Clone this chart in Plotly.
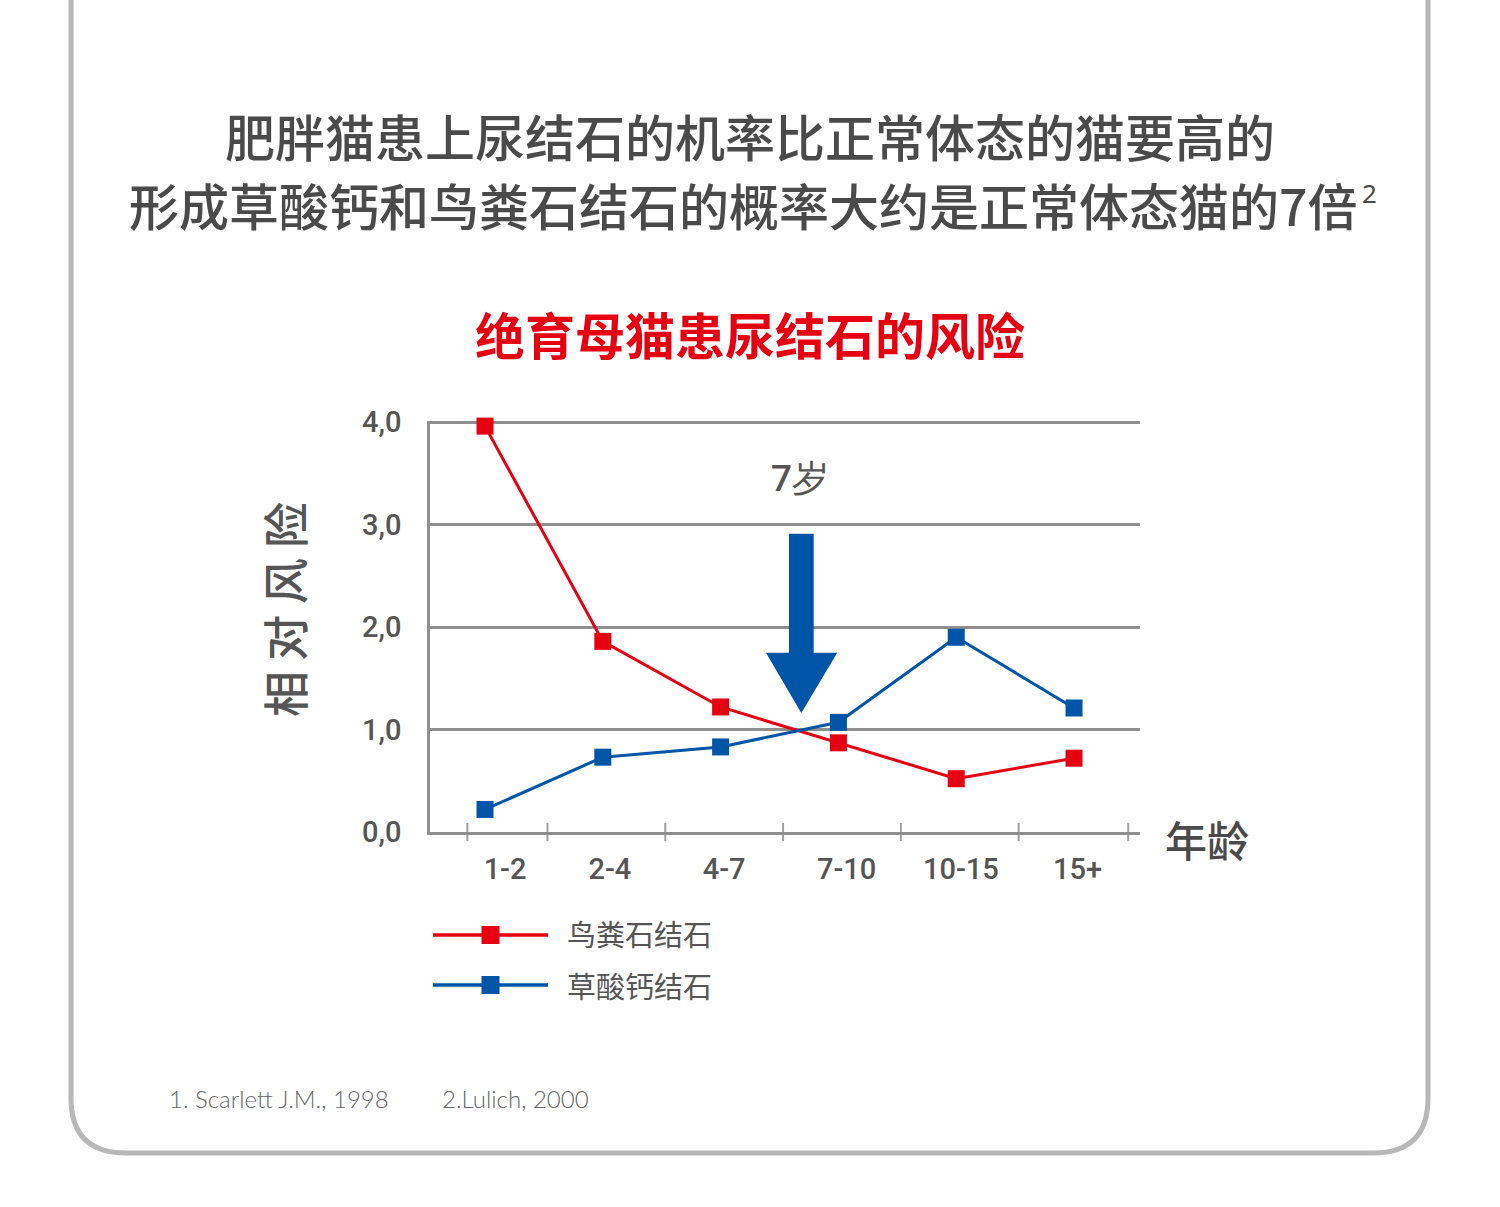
import plotly.graph_objects as go

# ---------------- data ----------------
age_groups = ["1-2", "2-4", "4-7", "7-10", "10-15", "15+"]
struvite = [3.96, 1.86, 1.22, 0.87, 0.52, 0.72]      # 鸟粪石结石
oxalate = [0.22, 0.73, 0.83, 1.07, 1.90, 1.21]       # 草酸钙结石
series_names = ["鸟粪石结石", "草酸钙结石"]
y_tick_values = [0, 1, 2, 3, 4]
y_tick_text = ["0,0", "1,0", "2,0", "3,0", "4,0"]

title_line1 = "肥胖猫患上尿结石的机率比正常体态的猫要高的"
title_line2 = "形成草酸钙和鸟粪石结石的概率大约是正常体态猫的7倍"
title_sup = "2"
chart_title = "绝育母猫患尿结石的风险"
y_title = "相 对 风 险"
x_title = "年龄"
arrow_label = "7岁"
footnotes = ["1. Scarlett J.M., 1998", "2.Lulich, 2000"]

# ---------------- style ----------------
RED = "#e60012"
BLUE = "#0055a6"
GRID = "#8f8f8f"
CJK = "Noto Sans CJK SC"
NUM = "Roboto"

W, H = 1500, 1207
L, R, T, B = 430, 1140, 421, 832  # plot area in pixels
YMAX = 4.01


def px(x):
    return (x - L) / (R - L)


def py(y):
    return (B - y) / (B - T)


x_idx = list(range(len(age_groups)))
label_shift = [0.17, 0.06, 0.03, 0.07, 0.04, 0.03]
label_pos = [i + s for i, s in zip(x_idx, label_shift)]
tick_pos = [-0.15] + [i + 0.53 for i in range(len(age_groups) - 1)] + [5.46]

fig = go.Figure()

# axis tick marks crossing the axis line
fig.add_trace(go.Scatter(
    x=tick_pos, y=[0] * len(tick_pos), mode="markers",
    marker=dict(symbol="line-ns-open", size=13, color="#a0a0a0",
                line=dict(width=2, color="#a0a0a0")),
    cliponaxis=False, hoverinfo="skip", showlegend=False))

for vals, color, name in [(struvite, RED, series_names[0]), (oxalate, BLUE, series_names[1])]:
    fig.add_trace(go.Scatter(
        x=x_idx, y=vals, mode="lines+markers", name=name,
        line=dict(color=color, width=3),
        marker=dict(symbol="square", size=17, color=color),
        cliponaxis=False, showlegend=False))

shapes = []
# blue arrow (data coordinates)
shapes.append(dict(
    type="path", xref="x", yref="y", layer="above",
    path="M 2.58,2.91 L 2.79,2.91 L 2.79,1.75 L 2.99,1.75 L 2.685,1.16 L 2.385,1.75 L 2.58,1.75 Z",
    fillcolor=BLUE, line=dict(width=0)))

# legend
for i, (color, yy) in enumerate([(RED, 935), (BLUE, 985)]):
    shapes.append(dict(type="line", xref="paper", yref="paper",
                       x0=px(433), x1=px(548), y0=py(yy), y1=py(yy),
                       line=dict(color=color, width=3.5)))
    shapes.append(dict(type="rect", xref="paper", yref="paper",
                       x0=px(481.5), x1=px(499.5), y0=py(yy - 9), y1=py(yy + 9),
                       fillcolor=color, line=dict(width=0)))


# rounded border
def P(x, y):
    return f"{px(x):.5f},{py(y):.5f}"


border = (f"M {P(71, -20)} L {P(71, 1098)} Q {P(71, 1153)} {P(126, 1153)} "
          f"L {P(1373, 1153)} Q {P(1428, 1153)} {P(1428, 1098)} L {P(1428, -20)}")
shapes.append(dict(type="path", xref="paper", yref="paper", path=border,
                   line=dict(color="#b8b8b8", width=5), layer="below"))

annotations = []


def ann(text, x, y, size, color="#4d4d4d", family=CJK, weight="normal",
        xanchor="center", yanchor="middle", **kw):
    annotations.append(dict(text=text, x=px(x), y=py(y), xref="paper", yref="paper",
                            showarrow=False, xanchor=xanchor, yanchor=yanchor,
                            font=dict(size=size, color=color, family=family, weight=weight),
                            **kw))


ann(title_line1, 750, 135, 50, color="#4a4a4a", weight=500)
ann(title_line2, 743, 204, 50, color="#4a4a4a", weight=500)
ann(title_sup, 1360, 193, 26, color="#4a4a4a", family="Noto Sans", xanchor="left")
ann(f"<b>{chart_title}</b>", 750, 333, 50, color=RED)
ann(y_title, 283, 610, 46, color="#555555", weight=500, textangle=-90)
ann(x_title, 1207, 838, 42, color="#4a4a4a", weight=500)
ann(arrow_label, 800, 478, 37, color="#555555", family=NUM, weight=500)
ann(series_names[0], 565, 933, 29, color="#555555", xanchor="left")
ann(series_names[1], 565, 985, 29, color="#555555", xanchor="left")
ann(footnotes[0], 167, 1098, 24, color="#666666", family="Lato", weight=300, xanchor="left")
ann(footnotes[1], 440, 1098, 24, color="#666666", family="Lato", weight=300, xanchor="left")

fig.update_layout(
    width=W, height=H,
    margin=dict(l=L, r=W - R, t=T, b=H - B, pad=0),
    paper_bgcolor="white", plot_bgcolor="white",
    shapes=shapes, annotations=annotations,
    showlegend=False,
    xaxis=dict(range=[-0.467, 5.56], tickmode="array", tickvals=label_pos, ticktext=age_groups,
               showgrid=False, zeroline=False, showline=True, linecolor=GRID, linewidth=2.5,
               ticks="", ticklabelstandoff=9,
               tickfont=dict(family=NUM, size=29, color="#555555", weight=500)),
    yaxis=dict(range=[0, YMAX], tickmode="array", tickvals=y_tick_values, ticktext=y_tick_text,
               showgrid=True, gridcolor=GRID, gridwidth=2.5, zeroline=False,
               showline=True, linecolor=GRID, linewidth=2.5, ticks="", ticklabelstandoff=20,
               tickfont=dict(family=NUM, size=29, color="#555555", weight=500)),
)

fig.write_html("out.html")
